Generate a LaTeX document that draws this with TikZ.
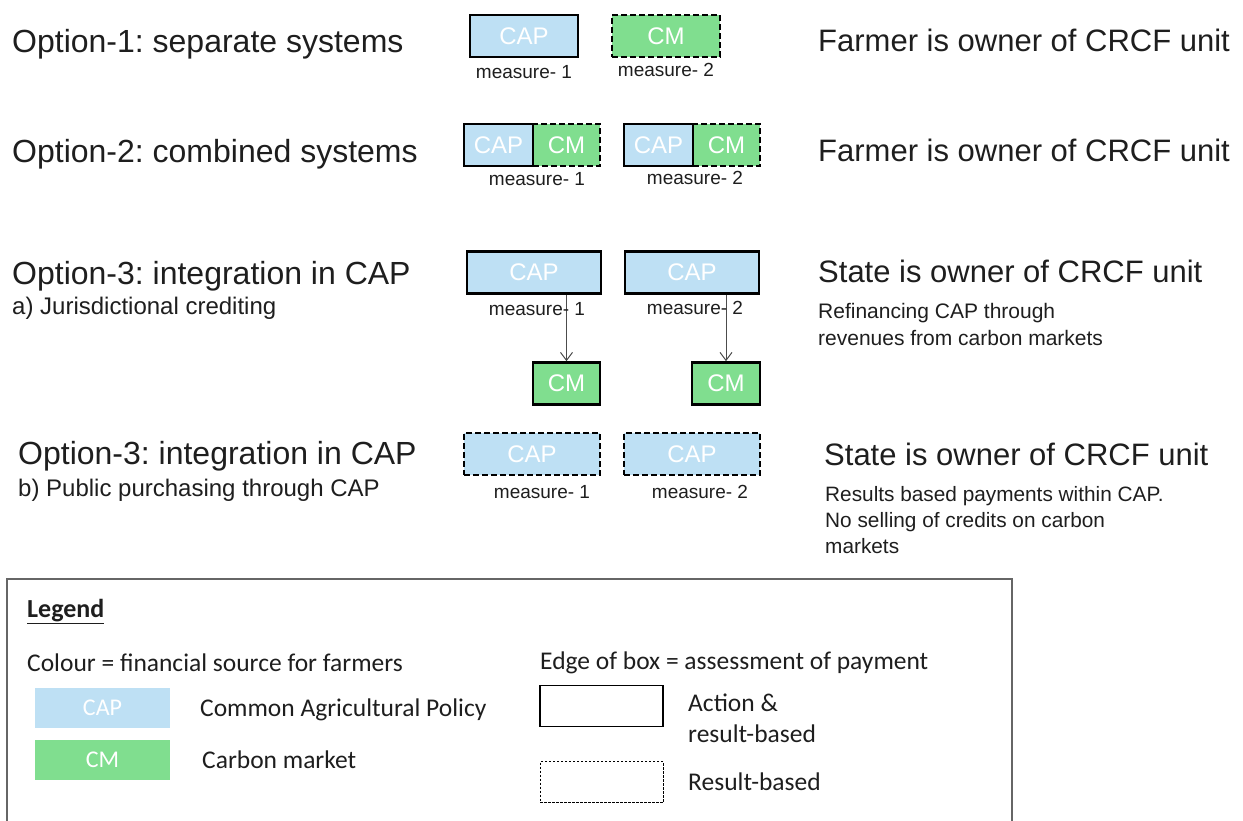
\documentclass[tikz,border=0pt]{standalone}
\usepackage{fontspec}
\setmainfont{Liberation Sans}
\newfontfamily\legfont{Carlito}
\usetikzlibrary{arrows.meta}
\definecolor{capblue}{RGB}{190,224,244}
\definecolor{cmgreen}{RGB}{128,222,143}
\definecolor{txt}{RGB}{30,30,30}
\frenchspacing
\tikzset{
  box/.style={draw=black,line width=2.6pt,minimum height=42pt,inner sep=0pt,text=white,font=\fontsize{24}{26}\selectfont},
  capbox/.style={box,fill=capblue},
  cmbox/.style={box,fill=cmgreen},
  dashbox/.style={dash pattern=on 6pt off 3pt},
  meas/.style={font=\fontsize{19}{22}\selectfont,text=txt,inner sep=0pt},
  title/.style={anchor=base west,font=\fontsize{32}{36}\selectfont,text=txt,inner sep=0pt},
  rtitle/.style={anchor=base west,font=\fontsize{31}{36}\selectfont,text=txt,inner sep=0pt},
  sub/.style={anchor=base west,font=\fontsize{24}{28}\selectfont,text=txt,inner sep=0pt},
  note/.style={anchor=base west,font=\fontsize{21}{26}\selectfont,text=txt,inner sep=0pt},
  arr/.style={draw=black!70,line width=1pt,-{Straight Barb[length=8pt,width=12pt]}},
  leg/.style={anchor=base west,font=\legfont\fontsize{25.5}{31}\selectfont,text=txt,inner sep=0pt},
  legbox/.style={minimum width=135pt,minimum height=40pt,inner sep=0pt,text=white,font=\legfont\fontsize{24}{26}\selectfont},
  edgebox/.style={draw=black,minimum width=123pt,minimum height=41pt,inner sep=0pt}
}
\begin{document}
\begin{tikzpicture}[x=1pt,y=-1pt]
\useasboundingbox (0,0) rectangle (1243,821);
% left titles
\node[title] (t1) at (12,53) {Option-1: separate systems};
\node[title] (t2) at (12,162.5) {Option-2: combined systems};
\node[title] (t3) at (12,284) {Option-3: integration in CAP};
\node[sub] (t3a) at (12,315) {a) Jurisdictional crediting};
\node[title] (t4) at (18,464) {Option-3: integration in CAP};
\node[sub] (t4b) at (18,496) {b) Public purchasing through CAP};
% right texts
\node[rtitle] (r1) at (818,52) {Farmer is owner of CRCF unit};
\node[rtitle] (r2) at (818,162) {Farmer is owner of CRCF unit};
\node[rtitle] (r3) at (818,283) {State is owner of CRCF unit};
\node[note] (r3n1) at (818,319) {Refinancing CAP through};
\node[note] (r3n2) at (818,345) {revenues from carbon markets};
\node[rtitle] (r4) at (824,465) {State is owner of CRCF unit};
\node[note,font=\fontsize{20.8}{26}\selectfont] (r4n1) at (825,501) {Results based payments within CAP.};
\node[note,font=\fontsize{20.8}{26}\selectfont] (r4n2) at (825,527) {No selling of credits on carbon};
\node[note,font=\fontsize{20.8}{26}\selectfont] (r4n3) at (825,553) {markets};
% option 1
\node[capbox,minimum width=108pt] (o1cap) at (524,36) {CAP};
\node[cmbox,dashbox,minimum width=108pt] (o1cm) at (666,36) {CM};
\node[meas] (o1m1) at (524,72) {measure- 1};
\node[meas] (o1m2) at (666,70) {measure- 2};
% option 2
\node[cmbox,dashbox,minimum width=67pt] (o2cm1) at (566.5,145) {CM};
\node[capbox,minimum width=69pt] (o2cap1) at (498.5,145) {CAP};
\node[cmbox,dashbox,minimum width=67pt] (o2cm2) at (726.5,145) {CM};
\node[capbox,minimum width=69pt] (o2cap2) at (658.5,145) {CAP};
\node[meas] (o2m1) at (537,179) {measure- 1};
\node[meas] (o2m2) at (695,178) {measure- 2};
% option 3a
\node[capbox,minimum width=134pt] (o3cap1) at (534,272.5) {CAP};
\node[capbox,minimum width=134pt] (o3cap2) at (692,272.5) {CAP};
\node[cmbox,minimum width=67pt] (o3cm1) at (566.5,383.5) {CM};
\node[cmbox,minimum width=68pt] (o3cm2) at (726,383.5) {CM};
\draw[arr] (o3cm1.north |- o3cap1.south) -- (o3cm1.north);
\draw[arr] (o3cm2.north |- o3cap2.south) -- (o3cm2.north);
\node[meas] (o3m1) at (537,309) {measure- 1};
\node[meas] (o3m2) at (695,308) {measure- 2};
% option 3b
\node[capbox,dashbox,minimum width=136pt] (o4cap1) at (532,454) {CAP};
\node[capbox,dashbox,minimum width=136pt] (o4cap2) at (692,454) {CAP};
\node[meas] (o4m1) at (542,492) {measure- 1};
\node[meas] (o4m2) at (700,492) {measure- 2};
% legend
\coordinate (lgA) at (7,825);
\coordinate (lgB) at (7,579);
\coordinate (lgC) at (1012,579);
\coordinate (lgD) at (1012,825);
\draw[draw=black!60,line width=1.3pt] (lgA) -- (lgB) -- (lgC) -- (lgD);
\node[leg,font=\legfont\bfseries\fontsize{26}{28}\selectfont] (lg) at (27,617) {\underline{Legend}};
\node[leg] (lcol) at (27,671) {Colour = financial source for farmers};
\node[legbox,fill=capblue] (lcap) at (102.5,708) {CAP};
\node[legbox,fill=cmgreen] (lcm) at (102.5,760) {CM};
\node[leg] (lcapt) at (200,716) {Common Agricultural Policy};
\node[leg] (lcmt) at (202,768) {Carbon market};
\node[leg] (ledge) at (540,669) {Edge of box = assessment of payment};
\node[edgebox,line width=1.6pt] (lsolid) at (601.5,706) {};
\node[edgebox,dash pattern=on 2.5pt off 1.5pt,line width=1pt] (ldash) at (601.5,782) {};
\node[leg] (lact1) at (688,711) {Action \&};
\node[leg] (lact2) at (688,742) {result-based};
\node[leg] (lres) at (688,790) {Result-based};
\end{tikzpicture}
\end{document}
